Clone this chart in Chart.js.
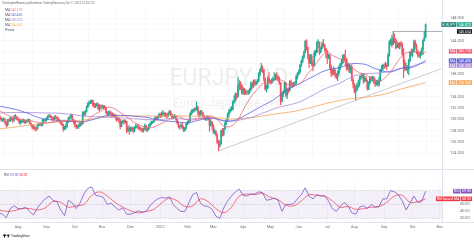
<!DOCTYPE html>
<html>
<head>
<meta charset="utf-8">
<script src="https://cdn.jsdelivr.net/npm/chart.js@4.4.0/dist/chart.umd.min.js"></script>
<style>
  body { margin: 0; background: #fff; width: 474px; height: 240px; overflow: hidden; position: relative; }
  canvas { position: absolute; left: 0; }
  #price { top: 0; }
  #rsi { top: 169px; }
</style>
</head>
<body>
<canvas id="price" width="474" height="169"></canvas>
<canvas id="rsi" width="474" height="71"></canvas>
<script>
// EURJPY daily, bar 0 = Mon 12 Jul 2021, last bar 330 = Mon 17 Oct 2022
const firstOpen = 130.60;
const closes = [
  130.45,130.10,129.95,129.95,130.05, 129.45,128.95,129.85,129.75,130.15, 130.10,129.85,130.55,130.35,130.25,
  129.95,129.40,129.55,129.70,129.75, 129.55,129.60,129.75,129.95,129.35, 129.05,128.55,128.65,128.35,128.30,
  128.90,129.10,129.20,129.00,129.85, 129.75,129.80,130.15,130.55,130.65, 130.50,130.05,130.00,130.45,130.30,
  130.25,129.85,129.65,129.35,129.10, 128.30,128.45,128.75,129.60,130.25, 130.40,130.70,129.85,129.65,128.95,
  128.70,128.75,128.85,129.40,129.20, 131.20,130.90,131.40,132.20,132.85, 133.05,133.05,133.30,132.45,132.40,
  132.45,132.75,131.90,132.20,132.15, 132.35,132.30,132.10,131.20,130.90, 131.30,131.10,131.05,130.65,130.80,
  130.50,129.95,130.10,129.90,128.75, 129.50,129.75,129.50,129.65,127.95, 128.45,128.10,128.20,128.45,127.95,
  128.50,128.80,128.80,128.50,128.40, 128.15,127.95,128.30,128.90,128.10, 128.20,128.90,129.20,129.50,129.55,
  129.95,130.30,130.00,130.45,130.90, 130.60,130.95,131.10,130.80,130.95, 130.55,131.05,131.40,130.85,130.25,
  130.50,130.55,130.05,129.40,128.80, 128.75,129.00,128.60,128.05,128.40, 129.15,129.50,129.75,130.95,131.40,
  131.45,131.85,131.75,132.20,131.30, 130.65,131.45,131.10,130.55,130.20, 130.10,130.40,130.15,128.95,129.60,
  128.95,127.75,127.85,127.25,125.95, 125.35,125.65,127.95,127.35,128.25, 129.30,129.80,130.90,131.50,131.70,
  131.80,133.10,133.30,134.50,134.00, 135.90,136.30,136.00,134.70,135.40, 134.70,134.90,134.85,134.90,135.25,
  136.40,135.80,136.80,136.30,136.60, 136.80,138.00,138.80,139.20,138.80, 137.20,135.40,135.60,137.30,136.70,
  136.60,136.90,137.10,137.20,137.80, 137.60,137.30,136.50,133.20,134.50, 134.80,136.50,134.30,135.30,135.10,
  136.70,136.20,136.00,136.40,136.40, 137.60,138.10,138.40,139.60,140.30, 141.10,141.90,143.90,142.70,141.40,
  140.00,141.20,139.90,139.50,141.80, 141.90,143.70,143.70,141.90,142.60, 143.40,143.20,142.60,142.20,141.00,
  141.40,139.50,138.30,138.20,138.70, 138.00,137.50,138.20,139.20,139.70, 140.10,141.40,140.70,140.60,139.00,
  139.70,138.60,139.30,137.00,136.20, 135.00,135.30,136.10,136.30,137.40, 137.50,137.90,136.90,137.30,136.90,
  135.40,136.50,137.40,137.10,137.50, 136.70,136.30,136.80,136.20,136.80, 138.70,139.10,139.60,139.50,139.60,
  139.50,141.40,143.80,144.10,143.30, 144.50,144.20,142.80,143.40,143.00, 143.50,143.30,141.70,140.10,138.90,
  139.10,138.90,140.50,141.90,141.80, 142.20,143.80,143.00,141.90,141.50, 141.30,141.70,142.50,144.00,144.50,
  146.87
];
const highs = [
  130.95,130.70,130.40,130.20,130.30, 130.10,129.60,130.00,130.10,130.40, 130.40,130.20,130.70,130.90,130.60,
  130.40,130.00,129.90,129.90,130.10, 129.90,129.80,129.90,130.10,130.00, 129.40,129.10,128.90,128.80,128.60,
  129.10,129.30,129.40,129.40,130.00, 130.00,130.10,130.30,130.70,130.90, 130.80,130.60,130.30,130.60,130.70,
  130.50,130.40,130.00,129.80,129.50, 129.10,128.80,129.20,129.80,130.40, 130.60,131.00,130.80,130.00,129.70,
  129.10,129.00,129.10,129.60,129.60, 131.40,131.40,131.60,132.40,133.00, 133.30,133.40,133.50,133.40,132.90,
  132.80,133.00,132.80,132.60,132.60, 132.60,132.50,132.50,132.20,131.40, 131.50,131.50,131.40,131.20,131.00,
  130.90,130.70,130.30,130.30,130.00, 129.70,129.90,129.90,129.90,129.70, 128.80,128.90,128.60,128.70,128.60,
  128.70,129.10,129.10,128.90,128.70, 128.60,128.40,128.50,129.20,129.00, 128.50,129.10,129.40,129.70,129.70,
  130.10,130.50,130.50,130.60,131.10, 131.10,131.30,131.60,131.20,131.20, 131.00,131.20,131.60,131.50,131.00,
  130.70,130.90,130.70,130.20,129.60, 129.00,129.20,129.30,128.80,128.60, 129.30,129.70,129.90,131.20,131.70,
  131.80,132.00,132.10,133.10,132.40, 131.40,131.60,131.60,131.20,130.70, 130.50,130.70,130.60,130.30,130.00,
  129.50,129.10,128.30,128.00,127.40, 126.30,126.20,128.10,128.40,128.40, 129.50,130.00,131.10,131.70,132.00,
  132.30,133.30,134.20,134.70,134.60, 137.50,137.00,136.70,136.20,135.70, 135.50,135.30,135.10,135.20,135.50,
  136.70,136.50,137.00,137.10,136.80, 137.10,138.30,139.00,140.00,139.50, 138.80,137.40,136.10,137.60,138.30,
  137.00,137.20,137.50,138.30,138.10, 138.30,137.80,137.50,136.60,134.90, 135.10,136.70,136.50,135.50,135.60,
  136.90,137.00,136.50,136.60,136.70, 137.90,138.30,138.80,139.80,140.60, 141.30,142.20,144.00,144.20,142.90,
  141.60,141.50,141.60,140.40,142.20, 142.30,143.90,144.20,143.80,142.90, 143.80,144.25,143.40,142.70,142.20,
  141.60,141.60,139.70,138.90,139.40, 139.00,138.20,138.60,139.50,140.00, 140.70,141.50,141.60,142.30,140.90,
  140.10,139.90,139.60,139.70,137.40, 136.40,136.00,136.50,137.00,137.70, 137.90,138.20,138.20,137.70,137.60,
  137.00,136.70,137.60,137.60,137.70, 137.60,137.20,137.00,137.00,137.50, 138.90,139.60,139.80,139.90,140.20,
  139.90,141.70,144.00,144.40,145.00, 145.60,145.20,144.30,143.90,143.60, 143.70,143.90,143.60,142.60,140.60,
  139.90,139.60,140.70,142.10,142.50, 142.50,144.10,144.10,143.40,142.30, 141.90,142.10,142.70,144.20,145.60,
  147.00
];
const lows = [
  130.25,129.90,129.70,129.60,129.70, 129.10,128.60,128.80,129.50,129.60, 129.80,129.40,129.70,130.10,129.90,
  129.70,129.20,129.10,129.40,129.40, 129.30,129.30,129.40,129.60,129.20, 128.80,128.30,128.30,128.00,127.90,
  128.20,128.80,128.90,128.80,128.90, 129.50,129.50,129.70,130.10,130.30, 130.30,129.90,129.70,129.90,130.10,
  130.00,129.60,129.40,129.10,128.90, 127.90,128.10,128.30,128.60,129.40, 130.00,130.10,129.60,129.20,128.60,
  128.30,128.40,128.40,128.80,128.90, 129.20,130.50,130.70,131.30,132.10, 132.50,132.80,132.80,132.20,132.10,
  132.10,132.30,131.70,131.50,131.80, 131.90,131.90,131.80,131.00,130.60, 130.80,130.90,130.40,130.40,130.50,
  130.20,129.70,129.80,129.40,128.30, 128.70,129.30,129.20,129.30,127.60, 127.80,127.30,127.80,127.90,127.60,
  127.80,128.40,128.50,128.20,128.10, 127.90,127.70,127.70,128.20,127.90, 127.80,128.10,128.70,129.00,129.30,
  129.40,129.80,129.80,129.90,130.30, 130.30,130.40,130.70,130.50,130.50, 130.20,130.40,130.90,130.60,130.00,
  130.10,130.20,129.80,129.20,128.50, 128.20,128.50,128.30,127.80,127.90, 128.30,129.00,129.30,129.60,130.80,
  131.10,131.30,131.50,131.60,130.80, 130.40,130.60,130.90,130.30,130.00, 129.80,129.80,129.90,127.90,128.80,
  128.20,127.50,127.40,127.00,125.70, 124.40,125.00,125.60,127.00,127.10, 128.20,129.00,129.70,130.50,131.20,
  131.50,131.70,132.80,133.20,133.60, 134.00,135.20,135.30,134.50,134.40, 134.40,134.40,134.50,134.40,134.60,
  135.10,135.50,135.70,136.00,136.10, 136.30,136.70,137.70,138.50,138.30, 136.80,135.20,134.90,135.40,136.50,
  136.20,136.40,136.50,136.90,137.00, 137.00,136.80,136.20,132.60,133.10, 134.00,134.70,134.00,133.70,134.70,
  135.00,135.80,135.60,135.80,136.00, 136.30,137.20,137.90,138.20,139.40, 140.10,140.80,141.80,142.30,140.70,
  139.20,139.90,139.50,138.60,139.60, 141.30,141.80,142.80,141.50,141.80, 142.50,142.90,142.10,140.90,139.90,
  140.80,139.00,137.60,137.80,137.90, 137.50,137.20,136.90,137.80,138.80, 139.50,139.90,140.30,139.50,138.70,
  138.80,138.30,138.20,136.80,135.60, 134.70,133.40,135.00,135.60,135.90, 137.00,137.30,136.40,136.60,136.70,
  135.20,135.30,136.30,136.80,136.80, 136.40,135.80,136.10,135.90,135.90, 136.70,138.50,138.70,139.00,139.20,
  138.80,139.40,141.20,143.20,142.90, 143.40,143.60,142.50,142.70,142.70, 142.50,142.90,141.30,137.40,138.60,
  138.70,138.20,137.90,140.20,141.30, 141.10,141.90,142.60,141.70,141.10, 141.00,140.90,141.40,141.50,143.90,
  144.70
];

// moving averages read at bar 0, then each Friday, then the last bar
const ma20 = [131.70,
  131.08,130.53,130.19,129.91,129.79,129.53,129.28,129.40,129.56,129.82,129.79,129.72,129.40,129.92,130.86,131.46,
  132.16,131.97,131.22,130.47,129.58,128.99,128.60,128.55,129.07,129.64,130.27,130.47,130.03,129.85,130.07,130.30,
  130.62,129.97,128.77,128.74,129.61,131.64,133.64,135.08,136.32,136.52,137.07,136.93,136.15,136.12,136.54,138.14,
  139.46,141.06,141.98,141.24,140.75,140.15,139.07,138.27,137.96,137.07,136.67,137.49,138.77,140.47,141.70,141.99,
  142.00,141.81, 142.11];
const ma50 = [132.38,
  132.22,131.98,131.71,131.35,130.96,130.46,130.13,129.96,129.83,129.71,129.61,129.64,129.51,129.72,130.04,130.41,
  130.67,130.75,130.70,130.67,130.58,130.45,130.38,130.12,129.87,129.72,129.63,129.52,129.39,129.48,129.83,130.04,
  130.20,130.05,129.71,129.68,129.94,130.52,131.15,131.77,132.44,133.00,133.73,134.56,135.38,135.95,136.50,137.15,
  137.71,138.35,138.76,139.04,139.18,139.64,139.93,139.90,139.75,139.21,138.82,138.47,138.46,138.90,139.20,139.21,
  139.64,140.32, 140.45];
const ma100 = [131.11,
  131.19,131.21,131.23,131.22,131.23,131.18,131.14,131.13,131.13,131.05,130.92,130.81,130.61,130.54,130.50,130.44,
  130.40,130.35,130.27,130.19,130.10,130.05,129.95,129.92,129.95,130.07,130.15,130.13,130.05,130.07,130.20,130.25,
  130.29,130.08,129.79,129.70,129.78,130.02,130.27,130.63,131.13,131.52,131.96,132.30,132.55,132.82,133.22,133.83,
  134.43,135.06,135.60,136.02,136.46,137.10,137.66,137.93,138.13,138.18,138.26,138.41,138.61,138.97,139.19,139.42,
  139.79,140.11, 140.20];
const ma200 = [128.33,
  128.38,128.52,128.66,128.84,129.01,129.13,129.28,129.43,129.55,129.63,129.70,129.78,129.84,129.97,130.13,130.29,
  130.42,130.54,130.61,130.65,130.64,130.63,130.59,130.57,130.59,130.62,130.64,130.63,130.59,130.56,130.56,130.53,
  130.45,130.31,130.14,130.07,130.09,130.19,130.27,130.41,130.61,130.78,130.96,131.11,131.25,131.44,131.68,131.98,
  132.24,132.57,132.90,133.13,133.37,133.59,133.72,133.82,133.95,134.10,134.27,134.52,134.87,135.25,135.58,135.86,
  136.17,136.46, 136.55];

// RSI(14) read every 3 bars, its moving average every 6 bars
const rsi = [
  38,36,31,44,48,44,44,46,40,35,45,52,58,62,56,54,42,34,
  56,52,44,52,65,73,75,63,62,60,50,52,46,42,45,36,
  36,38,41,39,40,48,54,58,60,59,61,50,44,40,40,52,
  64,67,52,48,47,43,33,30,45,55,62,68,72,63,62,65,
  65,68,67,56,57,59,56,40,50,50,51,58,64,74,62,58,
  64,62,62,55,44,40,47,53,48,38,36,46,48,44,50,46,
  47,58,58,70,68,64,55,42,52,62,53,54,69
];
const rsiMa = [
  42,40,41,44,44,42,45,54,53,46,48,50,63,68,62,53,46,41,38,40,
  43,52,59,55,47,48,58,54,44,38,46,62,65,64,66,60,57,49,48,55,
  64,63,62,55,46,47,43,44,46,47,53,62,63,53,54,58
];

const monthLabels = ['Aug','Sep','Oct','Nov','Dec','2022','Feb','Mar','Apr','May','Jun','Jul','Aug','Sep','Oct','Nov'];
const monthBars = [15, 37, 59, 80, 102, 125, 146, 166, 189, 210, 232, 254, 275, 298, 320, 341];
const priceTicks = [124, 126, 128, 130, 132, 134, 136, 138, 140, 142, 144, 146, 148];
const hiddenPriceTicks = [136, 140, 142, 146];
const rsiTicks = [30, 40, 50, 60, 70];
const hiddenRsiTicks = [60, 70];

// drawings
const trendStart = [170, 124.4];
const trendEnd = [342, 139.0];
const septHigh = 145.634;
const septHighBar = 305;

const lastBar = closes.length - 1;
const X_MIN = 1.1, X_MAX = 342.7;
const UP = '#22ab94', DOWN = '#f25563';
const FONT = 'Roboto, "Liberation Sans", sans-serif';

const opens = closes.map((c, i) => i === 0 ? firstOpen : closes[i - 1]);
const bodies = closes.map((c, i) => ({ x: i, y: [opens[i], c], up: c >= opens[i] }));
const wicks = closes.map((c, i) => ({ x: i, y: [lows[i], highs[i]], up: c >= opens[i] }));

function maPoints(arr) {
  return arr.map((v, j) => ({ x: j === 0 ? 0 : (j === arr.length - 1 ? lastBar : 5 * (j - 1) + 4), y: v }));
}

const MA_COLORS = ['#f06478', '#5b63d9', '#ab8ad8', '#f5a55a'];
const maSets = [ma20, ma50, ma100, ma200];

function labelBox(ctx, y, parts, right) {
  // parts: [{text, bg, fg}], drawn right-aligned against x = right
  ctx.font = '3.6px ' + FONT;
  let x = right;
  for (let k = parts.length - 1; k >= 0; k--) {
    const p = parts[k];
    const w = ctx.measureText(p.text).width + 2;
    ctx.fillStyle = p.bg;
    ctx.fillRect(x - w, y - 2.3, w, 4.6);
    ctx.fillStyle = p.fg || '#fff';
    ctx.textAlign = 'left';
    ctx.textBaseline = 'middle';
    ctx.fillText(p.text, x - w + 1, y + 0.2);
    x -= w + 0.6;
  }
}

const priceOverlay = {
  id: 'priceOverlay',
  beforeDatasetsDraw(chart) {
    const { ctx } = chart;
    ctx.save();
    ctx.fillStyle = 'rgba(120,123,134,0.13)';
    ctx.textAlign = 'center';
    ctx.textBaseline = 'middle';
    ctx.font = '23px ' + FONT;
    ctx.fillText('EURJPY, 1D', 229, 79);
    ctx.font = '12px ' + FONT;
    ctx.fillText('Euro / Japanese Yen', 228, 104);
    ctx.restore();
  },
  afterDraw(chart) {
    const { ctx, chartArea, scales } = chart;
    const ys = scales.y;
    ctx.save();
    // axis separator
    ctx.strokeStyle = '#e0e3eb';
    ctx.lineWidth = 1;
    ctx.beginPath();
    ctx.moveTo(chartArea.right + 0.5, 0);
    ctx.lineTo(chartArea.right + 0.5, chart.height);
    ctx.stroke();

    // header
    ctx.textAlign = 'left';
    ctx.textBaseline = 'middle';
    ctx.font = '2.8px ' + FONT;
    ctx.fillStyle = '#6a6d78';
    ctx.fillText('ChristopherBeaven published on TradingView.com, Oct 17, 2022 16:25 UTC', 2, 3);
    ctx.font = '3.4px ' + FONT;
    const legendVals = maSets.map(a => a[a.length - 1].toFixed(3));
    legendVals.forEach((v, k) => {
      const y = 10 + k * 5;
      ctx.fillStyle = '#50535e';
      ctx.fillText('MA', 5, y);
      ctx.fillStyle = MA_COLORS[k];
      ctx.fillText(v, 10, y);
    });
    ctx.fillStyle = '#50535e';
    ctx.fillText('Pivots', 5, 30);

    // right labels
    const R = chart.width - 2;
    const last = closes[lastBar];
    labelBox(ctx, ys.getPixelForValue(last), [
      { text: 'EURJPY', bg: '#0f7a6c' },
      { text: last.toFixed(3), bg: UP }
    ], R);
    labelBox(ctx, ys.getPixelForValue(septHigh), [{ text: septHigh.toFixed(3), bg: '#131722' }], R);
    let prevY = -10;
    maSets.map((a, k) => ({ k, y: ys.getPixelForValue(a[a.length - 1]) }))
      .sort((a, b) => a.y - b.y)
      .forEach(o => {
        const y = Math.max(o.y, prevY + 4.8);
        prevY = y;
        const col = MA_COLORS[o.k];
        labelBox(ctx, y, [{ text: 'MA', bg: col }, { text: maSets[o.k][maSets[o.k].length - 1].toFixed(3), bg: col }], R);
      });
    ctx.restore();
  }
};

const priceChart = new Chart(document.getElementById('price'), {
  type: 'bar',
  data: {
    datasets: [
      { type: 'line', data: maPoints(ma20), borderColor: MA_COLORS[0], borderWidth: 0.8, pointRadius: 0, tension: 0.35, order: 1 },
      { type: 'line', data: maPoints(ma50), borderColor: MA_COLORS[1], borderWidth: 0.8, pointRadius: 0, tension: 0.35, order: 1 },
      { type: 'line', data: maPoints(ma100), borderColor: MA_COLORS[2], borderWidth: 0.8, pointRadius: 0, tension: 0.35, order: 1 },
      { type: 'line', data: maPoints(ma200), borderColor: MA_COLORS[3], borderWidth: 0.8, pointRadius: 0, tension: 0.35, order: 1 },
      { type: 'line', data: [{ x: trendStart[0], y: trendStart[1] }, { x: trendEnd[0], y: trendEnd[1] }],
        borderColor: 'rgba(150,150,160,0.7)', borderWidth: 0.7, pointRadius: 0, order: 2 },
      { type: 'line', data: [{ x: septHighBar, y: septHigh }, { x: X_MAX, y: septHigh }],
        borderColor: 'rgba(110,110,120,0.8)', borderWidth: 0.7, pointRadius: 0, order: 2 },
      { data: wicks, barThickness: 0.5, grouped: false, order: 10,
        backgroundColor: c => (c.raw && c.raw.up) ? UP : DOWN },
      { data: bodies, barThickness: 1.0, grouped: false, order: 9,
        backgroundColor: c => (c.raw && c.raw.up) ? UP : DOWN }
    ]
  },
  options: {
    responsive: false,
    animation: false,
    events: [],
    layout: { padding: 0 },
    plugins: { legend: { display: false }, tooltip: { enabled: false } },
    scales: {
      x: {
        type: 'linear', min: X_MIN, max: X_MAX, offset: false,
        afterBuildTicks: s => { s.ticks = monthBars.map(v => ({ value: v })); },
        afterFit: s => { s.height = 0; },
        ticks: { display: false },
        grid: { color: '#f2f3f6', lineWidth: 0.6, drawTicks: false },
        border: { display: false }
      },
      y: {
        position: 'right', min: 123.0, max: 149.4,
        afterBuildTicks: s => { s.ticks = priceTicks.map(v => ({ value: v })); },
        afterFit: s => { s.width = 32; },
        ticks: {
          font: { size: 3.8, family: FONT }, color: '#6a6d78', padding: 8, align: 'center',
          callback: v => hiddenPriceTicks.includes(v) ? '' : v.toFixed(3)
        },
        grid: { color: '#f2f3f6', lineWidth: 0.6, drawTicks: false },
        border: { display: false }
      }
    }
  },
  plugins: [priceOverlay]
});

const rsiOverlay = {
  id: 'rsiOverlay',
  beforeDatasetsDraw(chart) {
    const { ctx, chartArea, scales } = chart;
    const ys = scales.y;
    const y70 = ys.getPixelForValue(70), y30 = ys.getPixelForValue(30), y50 = ys.getPixelForValue(50);
    ctx.save();
    ctx.fillStyle = 'rgba(126,87,194,0.09)';
    ctx.fillRect(chartArea.left, y70, chartArea.right - chartArea.left, y30 - y70);
    ctx.strokeStyle = 'rgba(120,123,134,0.55)';
    ctx.lineWidth = 0.5;
    ctx.setLineDash([1.2, 1.2]);
    [y70, y50, y30].forEach(y => {
      ctx.beginPath();
      ctx.moveTo(chartArea.left, y);
      ctx.lineTo(chartArea.right, y);
      ctx.stroke();
    });
    ctx.restore();
  },
  afterDraw(chart) {
    const { ctx, chartArea, scales } = chart;
    const ys = scales.y;
    ctx.save();
    ctx.strokeStyle = '#e0e3eb';
    ctx.lineWidth = 1;
    ctx.beginPath();
    ctx.moveTo(0, 0.5); ctx.lineTo(chart.width, 0.5);
    ctx.moveTo(chartArea.right + 0.5, 0); ctx.lineTo(chartArea.right + 0.5, chartArea.bottom);
    ctx.moveTo(0, chartArea.bottom + 0.5); ctx.lineTo(chart.width, chartArea.bottom + 0.5);
    ctx.stroke();

    ctx.textAlign = 'left';
    ctx.textBaseline = 'middle';
    ctx.font = '3.4px ' + FONT;
    ctx.fillStyle = '#50535e';
    ctx.fillText('RSI', 4, 6.5);
    ctx.fillStyle = '#7e57c2';
    ctx.fillText(rsi[rsi.length - 1].toFixed(2), 10, 6.5);
    ctx.fillStyle = '#f23645';
    ctx.fillText(rsiMa[rsiMa.length - 1].toFixed(2), 19, 6.5);

    const R = chart.width - 2;
    const yr = ys.getPixelForValue(rsi[rsi.length - 1]);
    const ym = Math.max(ys.getPixelForValue(rsiMa[rsiMa.length - 1]), yr + 4.8);
    labelBox(ctx, yr, [{ text: 'RSI', bg: '#7e57c2' }, { text: rsi[rsi.length - 1].toFixed(2), bg: '#7e57c2' }], R);
    labelBox(ctx, ym, [{ text: 'RSI-based MA', bg: '#f23645' }, { text: rsiMa[rsiMa.length - 1].toFixed(2), bg: '#f23645' }], R);

    // footer logo
    ctx.fillStyle = '#131722';
    ctx.fillRect(3, 65.6, 3, 1.2);
    ctx.fillRect(4, 65.6, 1.1, 3);
    ctx.beginPath();
    ctx.arc(7.2, 66.2, 0.7, 0, Math.PI * 2);
    ctx.fill();
    ctx.beginPath();
    ctx.moveTo(8.2, 65.6); ctx.lineTo(9.6, 65.6); ctx.lineTo(8.6, 68.6); ctx.lineTo(7.6, 68.6);
    ctx.fill();
    ctx.font = '3.4px ' + FONT;
    ctx.fillStyle = '#131722';
    ctx.fillText('TradingView', 11, 67.2);
    ctx.restore();
  }
};

const rsiChart = new Chart(document.getElementById('rsi'), {
  type: 'line',
  data: {
    datasets: [
      { data: rsi.map((v, k) => ({ x: k * 3, y: v })), borderColor: '#7e57c2', borderWidth: 0.8, pointRadius: 0, tension: 0 },
      { data: rsiMa.map((v, k) => ({ x: k * 6, y: v })), borderColor: '#f23645', borderWidth: 0.7, pointRadius: 0, tension: 0.35 }
    ]
  },
  options: {
    responsive: false,
    animation: false,
    events: [],
    layout: { padding: 0 },
    plugins: { legend: { display: false }, tooltip: { enabled: false } },
    scales: {
      x: {
        type: 'linear', min: X_MIN, max: X_MAX,
        afterBuildTicks: s => { s.ticks = monthBars.map(v => ({ value: v })); },
        afterFit: s => { s.height = 18; },
        ticks: {
          autoSkip: false, maxRotation: 0, padding: 3,
          font: { size: 3.8, family: FONT }, color: '#6a6d78',
          callback: v => { const k = monthBars.indexOf(v); return k >= 0 ? monthLabels[k] : ''; }
        },
        grid: { color: '#f2f3f6', lineWidth: 0.6, drawTicks: false },
        border: { display: false }
      },
      y: {
        position: 'right', min: 24.8, max: 83.2,
        afterBuildTicks: s => { s.ticks = rsiTicks.map(v => ({ value: v })); },
        afterFit: s => { s.width = 32; },
        ticks: {
          font: { size: 3.8, family: FONT }, color: '#6a6d78', padding: 10,
          callback: v => hiddenRsiTicks.includes(v) ? '' : v.toFixed(2)
        },
        grid: { display: false },
        border: { display: false }
      }
    }
  },
  plugins: [rsiOverlay]
});
</script>
</body>
</html>
